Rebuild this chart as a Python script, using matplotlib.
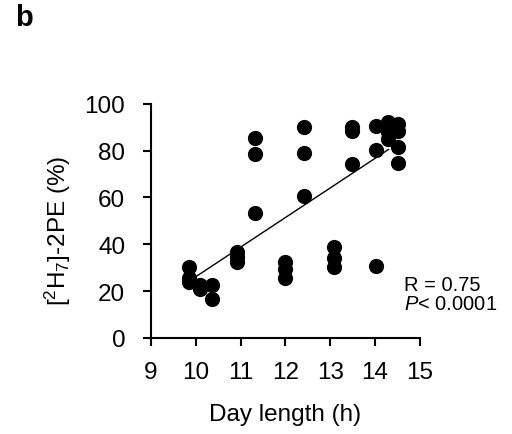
import numpy as np
import matplotlib
matplotlib.use("Agg")
import matplotlib.pyplot as plt

plt.rcParams['font.family'] = ['Liberation Sans', 'DejaVu Sans']
plt.rcParams['mathtext.fontset'] = 'custom'
plt.rcParams['mathtext.rm'] = 'Liberation Sans'
plt.rcParams['mathtext.it'] = 'Liberation Sans:italic'

day_length = [9.85, 9.85, 9.85, 10.1, 10.1, 10.35, 10.35,
              10.92, 10.92, 10.92,
              11.31, 11.31, 11.31,
              12.0, 12.0, 12.0,
              12.41, 12.41, 12.41,
              13.09, 13.09, 13.09,
              13.48, 13.48, 13.48,
              14.03, 14.03, 14.03,
              14.30, 14.30, 14.30, 14.4,
              14.52, 14.52, 14.52, 14.52]
pe_percent = [30.2, 25.5, 23.8, 22.4, 21.0, 22.4, 16.4,
              36.6, 34.5, 32.3,
              85.5, 78.6, 53.3,
              32.6, 29.5, 25.5,
              90.0, 78.9, 60.5,
              38.8, 34.3, 30.2,
              90.0, 88.2, 74.4,
              90.5, 80.1, 30.5,
              92.2, 87.9, 85.0, 89.8,
              91.5, 88.6, 81.5, 74.8]
fit_range = [10.0, 14.3]
x_ticks = [9, 10, 11, 12, 13, 14, 15]
y_ticks = [0, 20, 40, 60, 80, 100]

fig = plt.figure(figsize=(5.12, 4.35), dpi=100)
ax = fig.add_axes([0.295, 0.221, 0.525, 0.538])

ax.scatter(day_length, pe_percent, s=120, color='black', zorder=3, linewidths=0)

slope, intercept = np.polyfit(day_length, pe_percent, 1)
xf = np.array(fit_range)
ax.plot(xf, slope * xf + intercept, color='black', lw=1.0, zorder=2)

ax.set_xlim(9, 15)
ax.set_ylim(0, 100)
ax.set_xticks(x_ticks)
ax.set_yticks(y_ticks)
ax.tick_params(labelsize=17.5, length=6, width=1.5, direction='out')
ax.tick_params(axis='x', pad=11)
ax.tick_params(axis='y', pad=12.5)
for s in ['top', 'right']:
    ax.spines[s].set_visible(False)
for s in ['left', 'bottom']:
    ax.spines[s].set_linewidth(1.5)

ax.set_xlabel('Day length (h)', fontsize=17.5, labelpad=14)
ax.set_ylabel('[$^{2}$H$_{7}$]-2PE (%)', fontsize=17.5)
ax.yaxis.set_label_coords(-0.29, 0.462)

ax.text(0.94, 0.188, 'R = 0.75\n$\\it{P}$< 0.0001', transform=ax.transAxes,
        fontsize=14.5, ha='left', va='center', linespacing=1.0)

fig.text(0.029, 0.958, 'b', fontsize=21, fontweight='bold', ha='left', va='center')

fig.savefig('out.png', dpi=100)
